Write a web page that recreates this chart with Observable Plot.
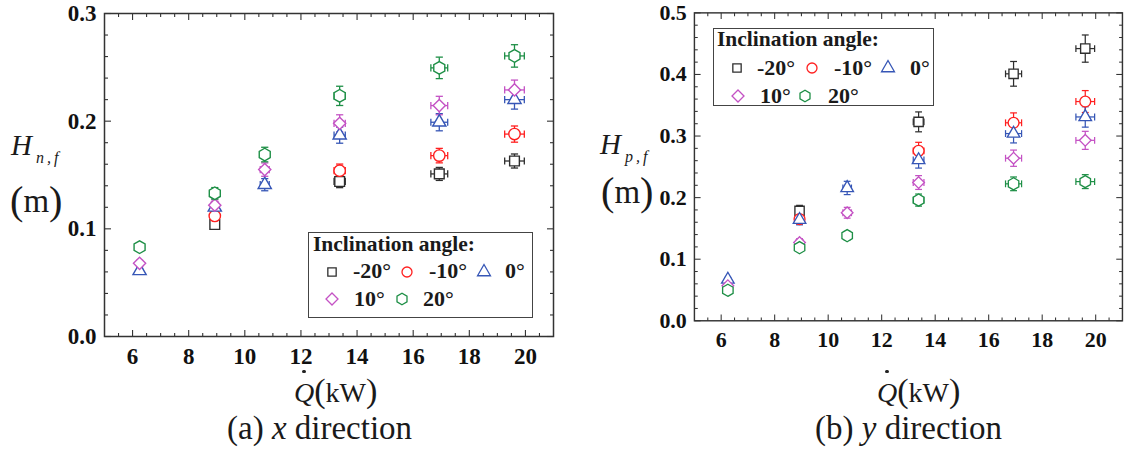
<!DOCTYPE html>
<html><head><meta charset="utf-8">
<script src="https://cdn.jsdelivr.net/npm/d3@7"></script>
<script src="https://cdn.jsdelivr.net/npm/@observablehq/plot@0.6"></script>
<style>
html,body{margin:0;padding:0;background:#fff;}
body{width:1142px;height:454px;overflow:hidden;position:relative;font-family:"Liberation Serif","Times New Roman",Times,serif;color:#1a1a1a;}
.abs{position:absolute;white-space:nowrap;line-height:1;}
.chart{position:absolute;top:0;}
.legend{position:absolute;border:1.5px solid #444;box-sizing:border-box;background:#fff;}
.big{font-size:1.22em;line-height:0;}
</style></head><body>
<div id="chartA" class="chart" style="left:0"></div>
<div id="chartB" class="chart" style="left:570px"></div>
<script>
// ---------------- data ----------------
const heatRelease    = [6.25, 8.93, 10.71, 13.38, 16.93, 19.61];   // Q (kW)
const heatReleaseErr = [0.08, 0.13, 0.16, 0.20, 0.30, 0.35];       // ± kW
const angleLabels = ["-20°", "-10°", "0°", "10°", "20°"];
const xTickLabels  = [6, 8, 10, 12, 14, 16, 18, 20];
const yTickLabelsA = [0, 0.1, 0.2, 0.3];
const yTickLabelsB = [0, 0.1, 0.2, 0.3, 0.4, 0.5];

// (a) x direction, H_n,f (m); null = not measured
const hnf_m20 = [null,  0.104, null,  0.144,  0.151,  0.163];
const hnf_m10 = [null,  0.112, null,  0.154,  0.168,  0.188];
const hnf_0   = [0.061, 0.120, 0.141, 0.187,  0.199,  0.220];
const hnf_10  = [0.068, 0.122, 0.155, 0.198,  0.2145, 0.229];
const hnf_20  = [0.083, 0.133, 0.169, 0.2235, 0.2495, 0.2606];
const hnfRelErr = 0.04;

// (b) y direction, H_p,f (m)
const hpf_m20 = [null,   0.1785, null,   0.323,  0.401,  0.442];
const hpf_m10 = [null,   0.165,  null,   0.276,  0.3215, 0.356];
const hpf_0   = [0.067,  0.164,  0.2157, 0.261,  0.304,  0.331];
const hpf_10  = [0.057,  0.127,  0.1754, 0.2245, 0.264,  0.293];
const hpf_20  = [0.0495, 0.1187, 0.1382, 0.196,  0.2224, 0.226];
const hpfRelErr = 0.05;

// ---------------- styles ----------------
const colors = ["#2e2e2e", "#ff2020", "#3656b6", "#c452c4", "#1e8f46"];
const symbolHexagon = {draw(ctx, size) {
  const rx = Math.sqrt(size / Math.PI), ry = rx * Math.sqrt(4 / 3), hy = ry / 2;
  ctx.moveTo(0, ry); ctx.lineTo(rx, hy); ctx.lineTo(rx, -hy); ctx.lineTo(0, -ry);
  ctx.lineTo(-rx, -hy); ctx.lineTo(-rx, hy); ctx.closePath();
}};
const symbols = [d3.symbolSquare, d3.symbolCircle, d3.symbolTriangle, d3.symbolDiamond2, symbolHexagon];
const radii = [5.5, 5.7, 4.9, 5.5, 5.5];
const capH = {draw(ctx) { ctx.moveTo(-3.6, 0); ctx.lineTo(3.6, 0); }};
const capV = {draw(ctx) { ctx.moveTo(0, -3.6); ctx.lineTo(0, 3.6); }};
const tickSym = (dx, dy, len) => ({draw(ctx) { ctx.moveTo(0, 0); ctx.lineTo(dx * len, dy * len); }});

function chart(series, relErr, yDomain, yTicks, W, mL) {
  const xDomain = [5, 21];
  const xMinor = d3.range(5.5, 21, 0.5).filter(v => !xTickLabels.includes(v));
  const yMinor = d3.range(1, Math.round(yDomain[1] * 50)).map(k => k / 50)
                   .filter(v => Math.round(v * 100) % 10 !== 0);
  const T = (data, axis, at, dx, dy, len) => Plot.dot(data, {
    x: axis === "x" ? d => d : at, y: axis === "x" ? at : d => d,
    symbol: tickSym(dx, dy, len), r: 1, stroke: "#333", strokeWidth: 1.1, fill: "none"});
  const marks = [
    T(xTickLabels, "x", yDomain[0], 0, -1, 6.5), T(xMinor, "x", yDomain[0], 0, -1, 3.5),
    T(xTickLabels, "x", yDomain[1], 0, 1, 6.5),  T(xMinor, "x", yDomain[1], 0, 1, 3.5),
    T(yTicks, "y", xDomain[0], 1, 0, 6.5),       T(yMinor, "y", xDomain[0], 1, 0, 3.5),
    T(yTicks, "y", xDomain[1], -1, 0, 6.5),      T(yMinor, "y", xDomain[1], -1, 0, 3.5),
    Plot.frame({stroke: "#333", strokeWidth: 1.5}),
    Plot.axisX({ticks: xTickLabels, tickSize: 0, tickPadding: 11, tickFormat: d => String(d), label: null}),
    Plot.axisY({ticks: yTicks, tickSize: 0, tickPadding: 8, tickFormat: d3.format(".1f"), label: null})
  ];
  const rowsAll = series.map((vals, i) => heatRelease.map((q, j) => vals[j] == null ? null :
    {q, qe: heatReleaseErr[j], h: vals[j], he: vals[j] * relErr}).filter(Boolean));
  rowsAll.forEach((rows, i) => {
    const c = colors[i];
    marks.push(
      Plot.link(rows, {x1: "q", x2: "q", y1: d => d.h - d.he, y2: d => d.h + d.he, stroke: c, strokeWidth: 1.3}),
      Plot.link(rows, {x1: d => d.q - d.qe, x2: d => d.q + d.qe, y1: "h", y2: "h", stroke: c, strokeWidth: 1.3}),
      Plot.dot(rows, {x: "q", y: d => d.h + d.he, symbol: capH, r: 1, stroke: c, strokeWidth: 1.3}),
      Plot.dot(rows, {x: "q", y: d => d.h - d.he, symbol: capH, r: 1, stroke: c, strokeWidth: 1.3}),
      Plot.dot(rows, {x: d => d.q - d.qe, y: "h", symbol: capV, r: 1, stroke: c, strokeWidth: 1.3}),
      Plot.dot(rows, {x: d => d.q + d.qe, y: "h", symbol: capV, r: 1, stroke: c, strokeWidth: 1.3})
    );
  });
  rowsAll.forEach((rows, i) => {
    marks.push(Plot.dot(rows, {x: "q", y: "h", symbol: symbols[i], r: radii[i],
      stroke: colors[i], fill: "white", strokeWidth: 1.4}));
  });
  return Plot.plot({
    width: W, height: 370, marginLeft: mL, marginRight: W - mL - 449, marginTop: 13, marginBottom: 34,
    x: {domain: xDomain}, y: {domain: yDomain},
    style: {fontFamily: "'Liberation Serif', 'Times New Roman', serif", fontSize: "23px", fontWeight: "bold",
            color: "#111", background: "transparent", overflow: "visible"},
    marks
  });
}

document.getElementById("chartA").append(
  chart([hnf_m20, hnf_m10, hnf_0, hnf_10, hnf_20], hnfRelErr, [0, 0.3], yTickLabelsA, 570, 104));
document.getElementById("chartB").append(
  chart([hpf_m20, hpf_m10, hpf_0, hpf_10, hpf_20], hpfRelErr, [0, 0.5], yTickLabelsB, 600, 130));

// ---------------- text & legends ----------------
function place(html, left, baseline, fs, extra = "") {
  const d = document.createElement("div");
  d.className = "abs";
  d.style.cssText = `left:${left}px;top:${baseline - 0.8375 * fs}px;font-size:${fs}px;${extra}`;
  d.innerHTML = html;
  document.body.append(d);
  return d;
}
const qLabel = '<span style="position:relative"><i>Q</i><span style="position:absolute;left:8px;top:-7px;width:3.6px;height:3.6px;border-radius:50%;background:#222"></span></span><span class="big">(</span>kW<span class="big">)</span>';
const mLabel = '<span class="big" style="position:relative;top:2px">(</span>m<span class="big" style="position:relative;top:2px">)</span>';

place("<i>H</i>", 11, 155, 29);
place("<i>n,f</i>", 36, 163, 16, "letter-spacing:3px");
place(mLabel, 10, 213, 33);
place(qLabel, 294, 402, 28);
place("(a) <i>x</i> direction", 227, 440, 33);

place("<i>H</i>", 600, 154, 29);
place("<i>p,f</i>", 625, 162, 16, "letter-spacing:3px");
place(mLabel, 601, 204, 33);
place(qLabel, 877, 402, 28);
place("(b) <i>y</i> direction", 815, 440, 33);

const legendR = [4.7, 5, 4.8, 5.4, 5];
function legend(box, titleLeft, titleBase, items) {
  const b = document.createElement("div");
  b.className = "legend";
  b.style.cssText = `left:${box[0]}px;top:${box[1]}px;width:${box[2]}px;height:${box[3]}px;`;
  document.body.append(b);
  place("Inclination angle:", titleLeft, titleBase, 21.5, "font-weight:bold");
  items.forEach(([i, cx, cy, tx]) => {
    const s = document.createElementNS("http://www.w3.org/2000/svg", "svg");
    s.setAttribute("width", 24); s.setAttribute("height", 24);
    s.style.cssText = `position:absolute;left:${cx - 12}px;top:${cy - 12}px;overflow:visible`;
    const p = document.createElementNS("http://www.w3.org/2000/svg", "path");
    p.setAttribute("d", d3.symbol(symbols[i], Math.PI * legendR[i] ** 2)());
    p.setAttribute("transform", "translate(12,12)");
    p.setAttribute("fill", "none"); p.setAttribute("stroke", colors[i]); p.setAttribute("stroke-width", 1.3);
    s.append(p); document.body.append(s);
    place(angleLabels[i], tx, cy + 7.3, 22, "font-weight:bold");
  });
}
legend([308, 232, 225, 86], 313, 252, [
  [0, 332, 271.5, 353], [1, 406.5, 271.5, 429], [2, 484, 271.5, 505],
  [3, 332, 299, 354], [4, 401.5, 299, 423]]);
legend([712.5, 28, 221, 78], 717, 47, [
  [0, 737, 68, 757], [1, 811.5, 68, 834], [2, 888, 68, 910],
  [3, 738, 96, 760], [4, 805, 96, 828]]);
</script></body></html>
